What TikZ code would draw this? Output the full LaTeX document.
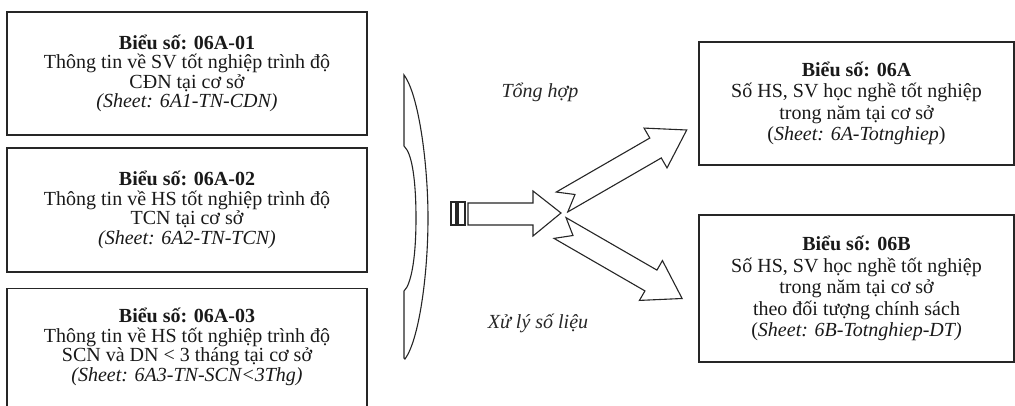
\documentclass[tikz,border=0pt]{standalone}
\usepackage{fontspec}
\setmainfont{Liberation Serif}
\begin{document}
\begin{tikzpicture}[x=1pt,y=-1pt,
    line join=miter,
    frame/.style={draw=black!85, line width=1.3pt, minimum width=360pt, inner sep=0pt},
    oframe/.style={draw=black!85, line width=1.3pt, minimum width=315pt, inner sep=0pt},
    txt/.style={align=center, font=\fontsize{20}{19.5}\selectfont, inner sep=0pt, text=black!90},
    otxt/.style={align=center, font=\fontsize{20}{21.5}\selectfont, inner sep=0pt, text=black!90},
    lbl/.style={font=\fontsize{20}{19.5}\selectfont\itshape, inner sep=0pt, text=black!85},
    blockarrow/.style={draw=black!85, line width=1.1pt, fill=white}]
  \useasboundingbox (0,0) rectangle (1015,406);
  \clip (0,0) rectangle (1015,406);

  % source forms on the left
  \node[frame, minimum height=123pt, txt] (b1) at (187,73.5)
    {\textbf{Biểu số: 06A-01}\\Thông tin về SV tốt nghiệp trình độ\\CĐN tại cơ sở\\\textit{(Sheet: 6A1-TN-CDN)}};
  \node[frame, minimum height=124pt, txt] (b2) at (187,210)
    {\textbf{Biểu số: 06A-02}\\Thông tin về HS tốt nghiệp trình độ\\TCN tại cơ sở\\\textit{(Sheet: 6A2-TN-TCN)}};
  \node[frame, minimum height=160pt, anchor=north] (b3) at (187,288) {};
  \node[txt] (b3t) at (187,347)
    {\textbf{Biểu số: 06A-03}\\Thông tin về HS tốt nghiệp trình độ\\SCN và DN < 3 tháng tại cơ sở\\\textit{(Sheet: 6A3-TN-SCN<3Thg)}};

  % output forms on the right
  \node[oframe, minimum height=123pt, otxt] (oa) at (856.5,103.5)
    {\textbf{Biểu số: 06A}\\Số HS, SV học nghề tốt nghiệp\\trong năm tại cơ sở\\(\textit{Sheet: 6A-Totnghiep})};
  \node[oframe, minimum height=147pt, otxt] (ob) at (856.5,288.5)
    {\textbf{Biểu số: 06B}\\Số HS, SV học nghề tốt nghiệp\\trong năm tại cơ sở\\theo đối tượng chính sách\\(\textit{Sheet: 6B-Totnghiep-DT)}};

  % bracket gathering the source forms
  \draw[blockarrow] (404,75) .. controls (419,95) and (428,165) .. (428,218)
    .. controls (428,275) and (419,340) .. (405,359)
    -- (404,358) -- (404,291) -- (407,287)
    .. controls (413,275) and (416,250) .. (416,218)
    .. controls (416,186) and (413,160) .. (407,150)
    -- (404,146) -- cycle;

  % striped block arrow into the junction
  \draw[blockarrow] (451,202) rectangle (456,225);
  \draw[blockarrow] (458,202) rectangle (465,225);
  \coordinate (hub) at (561,213);
  \draw[blockarrow] (468,203) -- (533,203) -- (533,191) -- (hub)
    -- (533,236) -- (533,225) -- (468,225) -- cycle;

  % notched block arrows towards the output forms
  \begin{scope}[shift={(562,202)}, rotate=30]
    \draw[blockarrow] (0,-11.5) -- (108,-11.5) -- (108,-23) -- (144,0)
      -- (108,23) -- (108,11.5) -- (0,11.5) -- (15,0) -- cycle;
  \end{scope}
  \begin{scope}[shift={(560,228)}, rotate=-30]
    \draw[blockarrow] (0,-12) -- (105,-12) -- (105,-23) -- (141,0)
      -- (105,23) -- (105,12) -- (0,12) -- (15,0) -- cycle;
  \end{scope}

  % labels
  \node[lbl] (l1) at (540,92) {Tổng hợp};
  \node[lbl] (l2) at (538,323) {Xử lý số liệu};
\end{tikzpicture}
\end{document}
